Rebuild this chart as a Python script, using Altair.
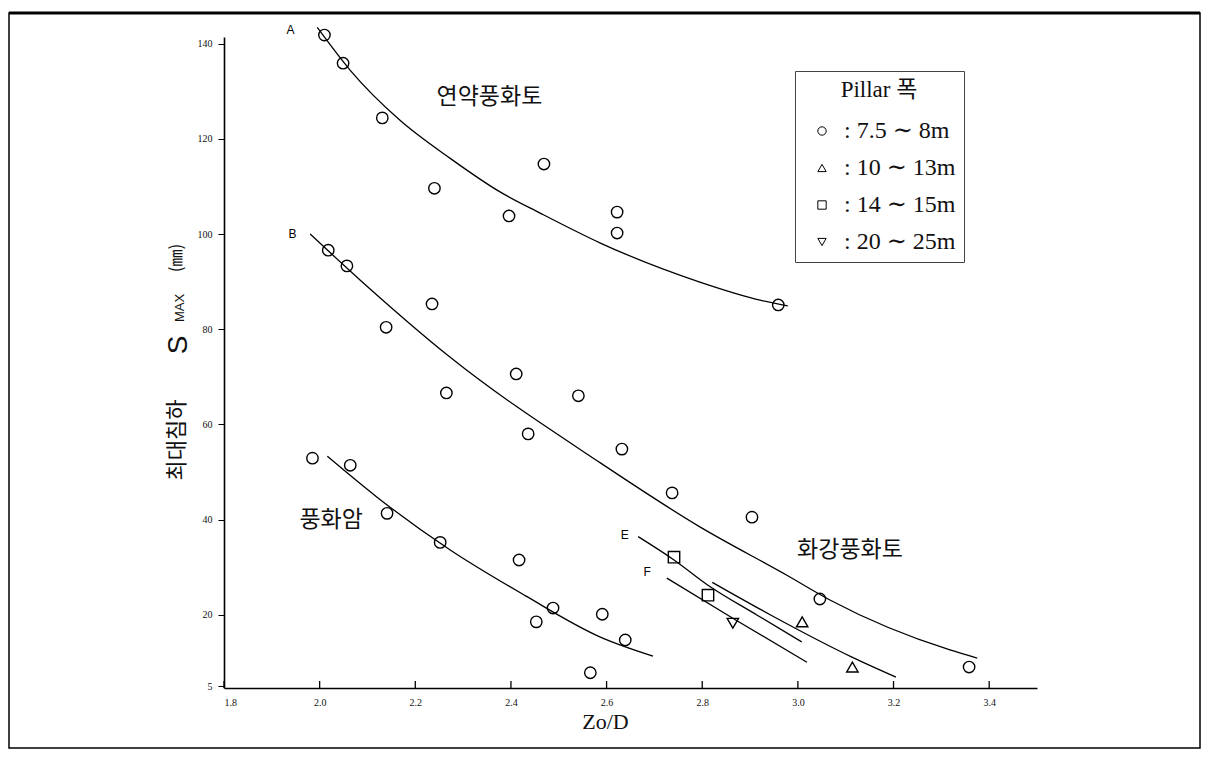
import altair as alt
import pandas as pd

SERIF = "Liberation Serif, DejaVu Serif, Noto Sans CJK KR"
SANS = "Liberation Sans, DejaVu Sans, Noto Sans CJK KR"
KR = "Noto Sans CJK KR"

# ---- tick labels ----
x_ticks = [1.8, 2.0, 2.2, 2.4, 2.6, 2.8, 3.0, 3.2, 3.4]
y_ticks = [5, 20, 40, 60, 80, 100, 120, 140]

# ---- fitted curves ----
a_line_x = [1.995, 2.064, 2.168, 2.273, 2.378, 2.461, 2.587, 2.795, 2.921, 2.979]
a_line_y = [143.4, 134.4, 123.9, 115.9, 108.8, 104.4, 98.1, 89.9, 86.1, 84.9]
b_line_x = [1.980, 2.085, 2.273, 2.587, 2.796, 2.977, 3.067, 3.318, 3.375]
b_line_y = [100.0, 90.3, 74.1, 51.9, 38.4, 28.3, 23.1, 12.6, 10.9]
c_line_x = [2.016, 2.120, 2.273, 2.430, 2.587, 2.697]
c_line_y = [53.3, 44.7, 33.6, 24.0, 15.3, 11.3]
e_line_x = [2.666, 2.741, 2.812, 2.915, 3.008]
e_line_y = [36.4, 31.5, 26.2, 19.9, 14.3]
d_line_x = [2.821, 2.942, 3.113, 3.205]
d_line_y = [26.8, 20.0, 11.1, 6.9]
f_line_x = [2.726, 2.870, 3.019]
f_line_y = [27.7, 18.9, 10.0]

# ---- measured points ----
circ_x = [2.010, 2.049, 2.131, 2.240, 2.396, 2.469, 2.622, 2.622, 2.959,
          2.018, 2.057, 2.139, 2.235, 2.265, 2.411, 2.436, 2.541, 2.632, 2.737, 2.904, 3.046, 3.358,
          1.985, 2.064, 2.141, 2.252, 2.417, 2.488, 2.453, 2.591, 2.639, 2.566]
circ_y = [141.8, 135.9, 124.4, 109.6, 103.8, 114.7, 104.6, 100.2, 85.1,
          96.6, 93.3, 80.4, 85.3, 66.6, 70.6, 58.0, 66.0, 54.8, 45.6, 40.5, 23.3, 9.0,
          52.9, 51.4, 41.3, 35.2, 31.5, 21.4, 18.5, 20.1, 14.7, 7.8]
tri_x = [3.009, 3.114]
tri_y = [18.5, 9.0]
sq_x = [2.741, 2.812]
sq_y = [32.1, 24.1]
dtri_x = [2.864]
dtri_y = [18.2]

widths = [": 7.5 \u223c 8m", ": 10 \u223c 13m", ": 14 \u223c 15m", ": 20 \u223c 25m"]
shapes = ["circle", "triangle-up", "square", "triangle-down"]

# ---- annotations ----
letter_txt = ["A", "B", "E", "F"]
letter_x = [1.939, 1.943, 2.638, 2.685]
letter_y = [142.9, 100.0, 36.7, 29.0]
kr_txt = ["연약풍화토", "풍화암", "화강풍화토"]
kr_x = [2.355, 2.024, 3.109]
kr_y = [128.8, 39.9, 33.6]
ytitle_parts = ["최대침하", "S", "MAX", "(㎜)"]

# ---- build tables ----
lines = []
for name, xs_, ys_ in [("A", a_line_x, a_line_y), ("B", b_line_x, b_line_y),
                        ("C", c_line_x, c_line_y), ("E", e_line_x, e_line_y),
                        ("D", d_line_x, d_line_y), ("F", f_line_x, f_line_y)]:
    for a, b in zip(xs_, ys_):
        lines.append({"curve": name, "x": a, "y": b})
lines_df = pd.DataFrame(lines)

pts = []
for w, xs_, ys_ in [(widths[0], circ_x, circ_y), (widths[1], tri_x, tri_y),
                     (widths[2], sq_x, sq_y), (widths[3], dtri_x, dtri_y)]:
    for a, b in zip(xs_, ys_):
        pts.append({"w": w, "x": a, "y": b})
pts_df = pd.DataFrame(pts)

letters_df = pd.DataFrame({"t": letter_txt, "x": letter_x, "y": letter_y})
kr_df = pd.DataFrame({"t": kr_txt, "x": kr_x, "y": kr_y})
xt_df = pd.DataFrame({"x": x_ticks})

W, H = 813, 651
xs = alt.Scale(domain=[1.8, 3.5], nice=False, zero=False)
ys = alt.Scale(domain=[4.6, 141.4], nice=False, zero=False)

x_axis = alt.Axis(values=x_ticks, format=".1f", title="Zo/D", tickSize=0,
                  labelPadding=9, labelFontSize=10, labelFont=SERIF, labelColor="#111",
                  titleFont=SERIF, titleFontSize=22, titleFontWeight="normal",
                  titlePadding=4, titleX=381, titleColor="#111",
                  domainColor="black", domainWidth=1.6, grid=False)
y_axis = alt.Axis(values=y_ticks, title=None, tickSize=6, tickColor="black",
                  labelFontSize=10, labelFont=SERIF, labelColor="#111", labelPadding=6,
                  domainColor="black", domainWidth=1.6, grid=False)

X = alt.X("x:Q", scale=xs, axis=x_axis)
Y = alt.Y("y:Q", scale=ys, axis=y_axis)

line_layer = alt.Chart(lines_df).mark_line(
    interpolate="monotone", color="black", strokeWidth=1.3
).encode(x=X, y=Y, detail="curve:N")

pt_layer = alt.Chart(pts_df).mark_point(
    filled=False, color="black", strokeWidth=1.4, size=130, opacity=1
).encode(
    x=X, y=Y,
    shape=alt.Shape("w:N", scale=alt.Scale(domain=widths, range=shapes),
                    legend=alt.Legend(title="Pillar  폭", orient="none", legendX=571, legendY=34,
                                      padding=8, strokeColor="#444", fillColor="white",
                                      titleFont=SERIF, titleFontSize=23, titleFontWeight="normal",
                                      titleAnchor="middle", titlePadding=17, titleColor="#111",
                                      labelFont=SERIF, labelFontSize=24, labelColor="#111",
                                      labelOffset=10, rowPadding=13, symbolSize=70,
                                      symbolOffset=7, labelLimit=400,
                                      symbolStrokeColor="black", symbolStrokeWidth=1,
                                      symbolFillColor="white")),
)

tick_layer = alt.Chart(xt_df).mark_rule(color="black", strokeWidth=1.3).encode(
    x=X, y=alt.value(H), y2=alt.value(H - 7)
)

letters_layer = alt.Chart(letters_df).mark_text(
    font=SANS, fontSize=12, color="black", align="center", baseline="middle"
).encode(x=X, y=Y, text="t:N")

kr_layer = alt.Chart(kr_df).mark_text(
    font=KR, fontSize=23, color="#111", align="center", baseline="middle"
).encode(x=X, y=Y, text="t:N")

one = pd.DataFrame({"a": [0]})
yt = []
for txt, px, py, fs, fnt in [(ytitle_parts[0], -47, 403, 22, KR),
                             (ytitle_parts[1], -45, 308, 28, SANS),
                             (ytitle_parts[2], -44, 271, 13, SANS),
                             (ytitle_parts[3], -47, 221, 17, KR)]:
    yt.append(alt.Chart(pd.DataFrame({"t": [txt]})).mark_text(
        font=fnt, fontSize=fs, color="#111", angle=270, align="center", baseline="middle"
    ).encode(x=alt.value(px), y=alt.value(py), text="t:N"))

frame = alt.Chart(one).mark_rect(fill="white", fillOpacity=0, stroke="black", strokeWidth=1.5).encode(
    x=alt.value(-215), x2=alt.value(976), y=alt.value(-24), y2=alt.value(711)
)
top_rule = alt.Chart(one).mark_rule(color="black", strokeWidth=3).encode(
    x=alt.value(-215), x2=alt.value(976), y=alt.value(-24)
)

chart = alt.layer(
    frame, top_rule, line_layer, tick_layer, pt_layer, letters_layer, kr_layer, *yt
).properties(
    width=W, height=H,
    padding={"left": 216, "top": 29, "right": 165, "bottom": 62},
    autosize=alt.AutoSizeParams(type="none"),
    background="white",
).configure_view(stroke=None)

chart.save("out.html", embed_options={"renderer": "svg", "actions": False})
